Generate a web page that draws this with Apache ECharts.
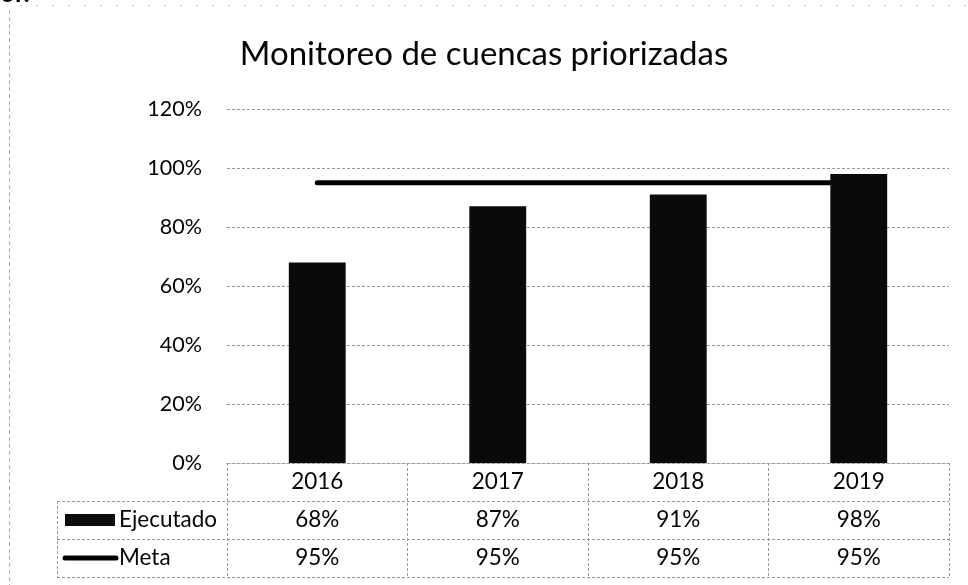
<!DOCTYPE html>
<html>
<head>
<meta charset="utf-8">
<script src="https://cdn.jsdelivr.net/npm/echarts@6/dist/echarts.min.js"></script>
<style>
  html, body { margin: 0; padding: 0; background: #fff; }
  #chart { width: 968px; height: 585px; }
</style>
</head>
<body>
<div id="chart"></div>
<script>
// Monitoreo de cuencas priorizadas: ejecutado vs meta (%)
const categories = ['2016', '2017', '2018', '2019'];
const ejecutado = [68, 87, 91, 98];
const meta = [95, 95, 95, 95];
const seriesNames = ['Ejecutado', 'Meta'];
const yMin = 0, yMax = 120, yStep = 20;

const FONT = 'Lato, "Open Sans", sans-serif';
const GRID_COLOR = '#9a9a9a';
const TEXT_COLOR = '#050505';
const ROW_H = 38;
const CELL_FONT = 22.5;

const chart = echarts.init(document.getElementById('chart'), null, { renderer: 'canvas' });

const option = {
  backgroundColor: '#fff',
  animation: false,
  title: {
    text: 'Monitoreo de cuencas priorizadas',
    left: 'center',
    top: 33,
    textStyle: { fontFamily: FONT, fontSize: 33, fontWeight: 'normal', color: TEXT_COLOR }
  },
  grid: { left: 227, right: 19, top: 109, bottom: 122 },
  xAxis: {
    type: 'category',
    data: categories,
    boundaryGap: true,
    axisLine: { show: true, lineStyle: { color: GRID_COLOR, width: 1, type: [3, 2] } },
    axisTick: {
      show: true, interval: 0, length: ROW_H * 3,
      lineStyle: { color: GRID_COLOR, width: 1, type: [3, 2] }
    },
    axisLabel: {
      interval: 0,
      margin: 0,
      formatter: (value, idx) =>
        `{c|${value}}\n{c|${ejecutado[idx]}%}\n{c|${meta[idx]}%}`,
      rich: {
        c: { fontFamily: FONT, fontSize: CELL_FONT, color: TEXT_COLOR, lineHeight: ROW_H, align: 'center' }
      }
    }
  },
  yAxis: {
    type: 'value',
    min: yMin, max: yMax, interval: yStep,
    axisLine: { show: false },
    axisTick: { show: false },
    axisLabel: {
      formatter: '{value}%', margin: 25,
      fontFamily: FONT, fontSize: 21.5, color: TEXT_COLOR
    },
    splitLine: { lineStyle: { color: GRID_COLOR, width: 1, type: [3, 2] } }
  },
  series: [
    {
      name: seriesNames[0],
      type: 'bar',
      data: ejecutado,
      barWidth: '31.5%',
      itemStyle: { color: '#0a0a0a' },
      z: 3
    },
    {
      name: seriesNames[1],
      type: 'line',
      data: meta,
      symbol: 'none',
      lineStyle: { color: '#000', width: 5, cap: 'round' },
      z: 2
    }
  ]
};

chart.setOption(option);

// Table rules and legend keys placed from the axes' own pixel mapping
const x0 = chart.convertToPixel({ gridIndex: 0 }, [0, yMin]);
const xLast = chart.convertToPixel({ gridIndex: 0 }, [categories.length - 1, yMin]);
const band = (xLast[0] - x0[0]) / (categories.length - 1);
const tableRight = xLast[0] + band / 2;
const baseY = x0[1];
const keyLeft = 57;
const dash = { stroke: GRID_COLOR, lineWidth: 1, lineDash: [3, 2] };

const graphics = [];
// horizontal rules for the two series rows
for (let r = 1; r <= 3; r++) {
  const y = Math.round(baseY + ROW_H * r) + 0.5;
  graphics.push({ type: 'line', shape: { x1: keyLeft, y1: y, x2: tableRight, y2: y }, style: dash, silent: true });
}
// left edge of the legend column
graphics.push({ type: 'line', shape: { x1: keyLeft + 0.5, y1: baseY + ROW_H, x2: keyLeft + 0.5, y2: baseY + ROW_H * 3 }, style: dash, silent: true });

// row 1: bar key + name
const r1 = baseY + ROW_H * 1.5;
graphics.push({ type: 'rect', shape: { x: 65, y: r1 - 6, width: 50, height: 12 }, style: { fill: '#0a0a0a' }, silent: true });
graphics.push({ type: 'text', x: 119, y: r1, style: { text: seriesNames[0], font: `${CELL_FONT}px ${FONT}`, fill: TEXT_COLOR, verticalAlign: 'middle', align: 'left' }, silent: true });
// row 2: line key + name
const r2 = baseY + ROW_H * 2.5;
graphics.push({ type: 'line', shape: { x1: 65, y1: r2, x2: 116, y2: r2 }, style: { stroke: '#000', lineWidth: 5, lineCap: 'round' }, silent: true });
graphics.push({ type: 'text', x: 119, y: r2, style: { text: seriesNames[1], font: `${CELL_FONT}px ${FONT}`, fill: TEXT_COLOR, verticalAlign: 'middle', align: 'left' }, silent: true });

// chart frame edges
graphics.push({ type: 'line', shape: { x1: 9.5, y1: 10, x2: 9.5, y2: 585 }, style: { stroke: '#b0b0b0', lineWidth: 1, lineDash: [4, 3] }, silent: true });
graphics.push({ type: 'line', shape: { x1: 20, y1: 5.5, x2: 968, y2: 5.5 }, style: { stroke: '#c8c8c8', lineWidth: 1, lineDash: [2, 14] }, silent: true });
// fragment of the preceding page text
graphics.push({ type: 'text', x: 0, y: -19, style: { text: 'or.', font: `bold 26px ${FONT}`, fill: '#000' }, silent: true });

chart.setOption({ graphic: graphics });
</script>
</body>
</html>
